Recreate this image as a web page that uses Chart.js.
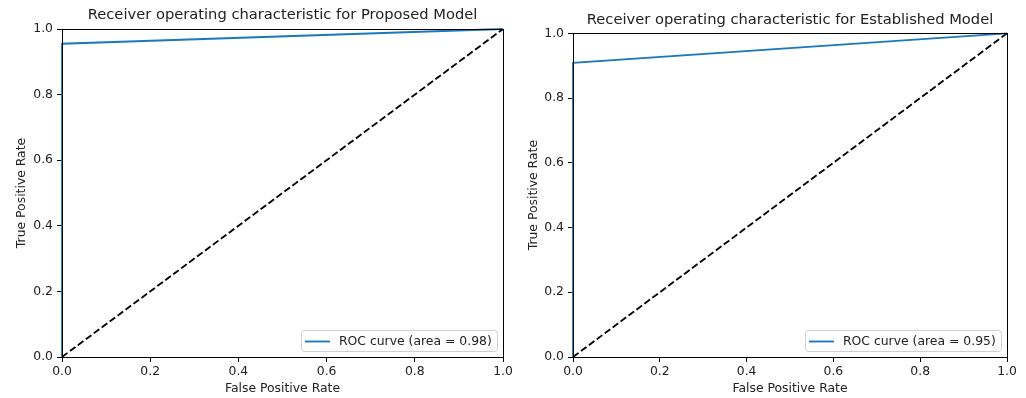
<!DOCTYPE html>
<html>
<head>
<meta charset="utf-8">
<script src="https://cdn.jsdelivr.net/npm/chart.js@4.4.1/dist/chart.umd.min.js"></script>
<style>
html,body{margin:0;padding:0;background:#fff;}
#wrap{position:relative;width:1026px;height:398px;overflow:hidden;}
.c{position:absolute;top:0;}
</style>
</head>
<body>
<div id="wrap">
  <div class="c" style="left:0;width:520px;height:398px;"><canvas id="c1"></canvas></div>
  <div class="c" style="left:520px;width:506px;height:398px;"><canvas id="c2"></canvas></div>
</div>
<script>
// Data
const titles = ["Receiver operating characteristic for Proposed Model", "Receiver operating characteristic for Established Model"];
const rocFprProposed = [0, 0, 1];
const rocTprProposed = [0, 0.955, 1];
const rocFprEstablished = [0, 0, 1];
const rocTprEstablished = [0, 0.909, 1];
const rocLabels = ["ROC curve (area = 0.98)", "ROC curve (area = 0.95)"];
const chanceX = [0, 1];
const chanceY = [0, 1];
const tickValues = [0, 0.2, 0.4, 0.6, 0.8, 1.0];
const xTitle = "False Positive Rate";
const yTitle = "True Positive Rate";

const FONT = "'DejaVu Sans', sans-serif";
const BLUE = '#1a78bd';
const FS = 12.4;
const TFS = 14.7;

function pts(xs, ys){ return xs.map((x,i)=>({x:x, y:ys[i]})); }

const framePlugin = {
  id: 'frame',
  afterLayout(chart){
    const t = chart.titleBlock;
    if (t) { t.left = chart.chartArea.left; t.right = chart.chartArea.right; t.width = t.right - t.left; }
  },
  afterDatasetsDraw(chart){
    const {ctx, chartArea:a} = chart;
    ctx.save();
    ctx.strokeStyle = '#000'; ctx.lineWidth = 1;
    ctx.strokeRect(Math.round(a.left)+0.5, Math.round(a.top)+0.5, Math.round(a.right-a.left), Math.round(a.bottom-a.top));
    const ds = chart.data.datasets[0];
    ctx.font = FS + 'px ' + FONT;
    const tw = ctx.measureText(ds.label).width;
    const h = 21, lineW = 26, gap = 9, padL = 3, padR = 5;
    const w = padL + lineW + gap + tw + padR;
    const x = Math.round(a.right - 6 - w), y = Math.round(a.bottom - 6 - h);
    ctx.beginPath();
    if (ctx.roundRect) ctx.roundRect(x+0.5, y+0.5, Math.round(w), h, 3); else ctx.rect(x+0.5,y+0.5,w,h);
    ctx.fillStyle = 'rgba(255,255,255,0.8)';
    ctx.fill();
    ctx.strokeStyle = '#d0d0d0'; ctx.lineWidth = 1;
    ctx.stroke();
    ctx.beginPath();
    ctx.strokeStyle = ds.borderColor; ctx.lineWidth = 1.85;
    ctx.moveTo(x+padL+1, y+h/2+1); ctx.lineTo(x+padL+lineW, y+h/2+1);
    ctx.stroke();
    ctx.fillStyle = '#222';
    ctx.textBaseline = 'middle'; ctx.textAlign = 'left';
    ctx.fillText(ds.label, x+padL+lineW+gap, y+h/2+1);
    ctx.restore();
  }
};

function makeChart(id, title, fpr, tpr, label, cfg){
  return new Chart(document.getElementById(id), {
    type: 'scatter',
    data: {
      datasets: [
        { label: label, data: pts(fpr, tpr), showLine: true, borderColor: BLUE, backgroundColor: BLUE,
          borderWidth: 1.85, pointRadius: 0, tension: 0, order: 1, clip: 2 },
        { label: 'chance', data: pts(chanceX, chanceY), showLine: true, borderColor: '#000', borderWidth: 1.85,
          borderDash: [6.9, 3], pointRadius: 0, order: 2 }
      ]
    },
    options: {
      responsive: true, maintainAspectRatio: false, animation: false,
      layout: { padding: { left: 0, right: cfg.padRight, top: 0, bottom: 0 } },
      plugins: {
        legend: { display: false },
        tooltip: { enabled: false },
        title: { display: true, text: title, color: '#222', font: { family: FONT, size: TFS, weight: 'normal', lineHeight: 1 },
                 padding: { top: cfg.titleTop, bottom: cfg.titleBottom } }
      },
      scales: {
        x: {
          type: 'linear', min: 0, max: 1,
          afterBuildTicks(s){ s.ticks = tickValues.map(v=>({value:v})); },
          afterFit(s){ s.height = 41; },
          ticks: { color: '#222', font: { family: FONT, size: FS }, padding: 2, maxRotation: 0,
                   callback: v => v.toFixed(1) },
          grid: { display: true, drawOnChartArea: false, drawTicks: true, tickLength: 5, color: '#000' },
          border: { display: true, color: '#000' },
          title: { display: true, text: xTitle, color: '#222', font: { family: FONT, size: FS }, padding: { top: 0, bottom: 1.5 } }
        },
        y: {
          type: 'linear', min: 0, max: 1,
          afterBuildTicks(s){ s.ticks = tickValues.map(v=>({value:v})); },
          afterFit(s){ s.width = cfg.yWidth; },
          ticks: { color: '#222', font: { family: FONT, size: FS }, padding: 4,
                   callback: v => v.toFixed(1) },
          grid: { display: true, drawOnChartArea: false, drawTicks: true, tickLength: 5, color: '#000' },
          border: { display: true, color: '#000' },
          title: { display: true, text: yTitle, color: '#222', font: { family: FONT, size: FS }, padding: { top: cfg.yTitlePad, bottom: 0 } }
        }
      }
    },
    plugins: [framePlugin]
  });
}

makeChart('c1', titles[0], rocFprProposed, rocTprProposed, rocLabels[0],
  { padRight: 17, titleTop: 8, titleBottom: 6.3, yWidth: 62, yTitlePad: 14.6 });
makeChart('c2', titles[1], rocFprEstablished, rocTprEstablished, rocLabels[1],
  { padRight: 19, titleTop: 12.6, titleBottom: 6, yWidth: 53, yTitlePad: 6.6 });
</script>
</body>
</html>
